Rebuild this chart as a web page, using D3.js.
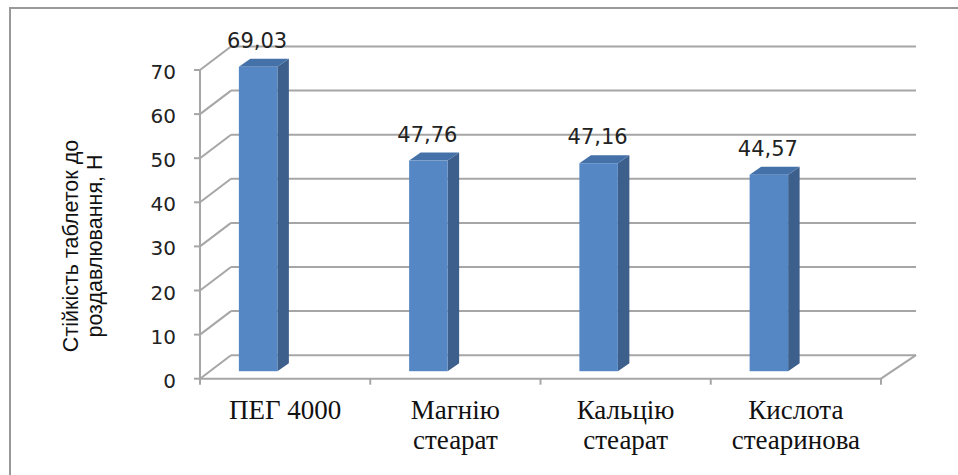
<!DOCTYPE html>
<html>
<head>
<meta charset="utf-8">
<script src="https://cdn.jsdelivr.net/npm/d3@7"></script>
<style>
  body { margin: 0; background: #fff; }
  svg { display: block; }
</style>
</head>
<body>
<svg id="chart" width="958" height="475"></svg>
<script>
// data
const categories = [["ПЕГ 4000"], ["Магнію", "стеарат"], ["Кальцію", "стеарат"], ["Кислота", "стеаринова"]];
const values = [69.03, 47.76, 47.16, 44.57];
const valueLabels = ["69,03", "47,76", "47,16", "44,57"];
const yTicks = [0, 10, 20, 30, 40, 50, 60, 70];
const yTitle = ["Стійкість таблеток до", "роздавлювання, Н"];

const svg = d3.select("#chart");
const gridColor = "#a6a6a6";

// front plane of the 3d box
const x = d3.scaleBand().domain(d3.range(categories.length)).range([200, 881]);
const y = d3.scaleLinear().domain([0, 70]).range([378.7, 70]);

// depth of the box (back wall offset)
const depth = { dy: -23.5, leftX: 231, rightX: 916 };

// bar geometry (relative to category)
const bar = { shift: -27, width: 38.5, frontDy: -7.5, sideDx: 11.5, sideDy: -8 };

// outer frame
svg.append("rect")
    .attr("x", 10).attr("y", 8)
    .attr("width", 960).attr("height", 480)
    .attr("fill", "none")
    .attr("stroke", "#999")
    .attr("stroke-width", 2);

const grid = svg.append("g")
    .attr("stroke", gridColor)
    .attr("stroke-width", 2)
    .attr("fill", "none");

// back wall gridlines
grid.selectAll(".back")
    .data(yTicks)
    .join("line")
    .attr("x1", depth.leftX)
    .attr("x2", depth.rightX)
    .attr("y1", d => y(d) + depth.dy)
    .attr("y2", d => y(d) + depth.dy);

// side wall diagonals
grid.selectAll(".side")
    .data(yTicks)
    .join("line")
    .attr("x1", 200)
    .attr("x2", depth.leftX)
    .attr("y1", d => y(d))
    .attr("y2", d => y(d) + depth.dy);

// floor front edge and right edge
grid.append("line")
    .attr("x1", 200).attr("x2", 881)
    .attr("y1", y(0)).attr("y2", y(0));
grid.append("line")
    .attr("x1", 881).attr("x2", depth.rightX)
    .attr("y1", y(0)).attr("y2", y(0) + depth.dy);

// vertical axis line + ticks
grid.append("line")
    .attr("x1", 200).attr("x2", 200)
    .attr("y1", y(70)).attr("y2", y(0) + 5);
grid.selectAll(".ytick")
    .data(yTicks)
    .join("line")
    .attr("x1", 194).attr("x2", 200)
    .attr("y1", d => y(d)).attr("y2", d => y(d));

// category ticks
const edges = d3.range(categories.length + 1).map(i => i < categories.length ? x(i) : x(i - 1) + x.bandwidth());
grid.selectAll(".xtick")
    .data(edges)
    .join("line")
    .attr("x1", d => d).attr("x2", d => d)
    .attr("y1", y(0)).attr("y2", y(0) + 6);

// y tick labels
svg.append("g")
    .selectAll("text")
    .data(yTicks)
    .join("text")
    .attr("x", 176)
    .attr("y", d => y(d) + 9)
    .attr("text-anchor", "end")
    .attr("font-family", "DejaVu Sans")
    .attr("font-size", 20)
    .attr("fill", "#222")
    .text(d => d);

// bars
const bars = svg.append("g")
    .selectAll("g")
    .data(values)
    .join("g");

function barLeft(i) {
    return x(i) + x.bandwidth() / 2 + bar.shift - bar.width / 2;
}

bars.append("path")
    .attr("fill", "#3d5f8c")
    .attr("d", function(d, i) {
        const x0 = barLeft(i) + bar.width;
        const yb = y(0) + bar.frontDy;
        const yt = y(d) + bar.frontDy;
        return "M" + x0 + "," + yb + "L" + (x0 + bar.sideDx) + "," + (yb + bar.sideDy) +
            "L" + (x0 + bar.sideDx) + "," + (yt + bar.sideDy) + "L" + x0 + "," + yt + "Z";
    });

bars.append("path")
    .attr("fill", "#4571a9")
    .attr("d", function(d, i) {
        const x0 = barLeft(i);
        const yt = y(d) + bar.frontDy;
        return "M" + x0 + "," + yt + "L" + (x0 + bar.sideDx) + "," + (yt + bar.sideDy) +
            "L" + (x0 + bar.width + bar.sideDx) + "," + (yt + bar.sideDy) +
            "L" + (x0 + bar.width) + "," + yt + "Z";
    });

bars.append("rect")
    .attr("fill", "#5587c4")
    .attr("x", (d, i) => barLeft(i))
    .attr("y", d => y(d) + bar.frontDy)
    .attr("width", bar.width)
    .attr("height", d => y(0) - y(d));

// value labels
bars.append("text")
    .attr("x", (d, i) => barLeft(i) + bar.width / 2 - 1)
    .attr("y", d => y(d) + bar.frontDy - 19)
    .attr("text-anchor", "middle")
    .attr("font-family", "DejaVu Sans")
    .attr("font-size", 21)
    .attr("fill", "#222")
    .text((d, i) => valueLabels[i]);

// category labels
svg.append("g")
    .selectAll("text")
    .data(categories)
    .join("text")
    .attr("text-anchor", "middle")
    .attr("font-family", "Liberation Serif")
    .attr("font-size", 27)
    .attr("fill", "#111")
    .each(function(lines, i) {
        const t = d3.select(this);
        lines.forEach(function(line, j) {
            t.append("tspan")
                .attr("x", x(i) + x.bandwidth() / 2)
                .attr("y", 419 + j * 29.5)
                .text(line);
        });
    });

// y axis title
const title = svg.append("text")
    .attr("transform", "translate(0,246) rotate(-90)")
    .attr("text-anchor", "middle")
    .attr("font-family", "Liberation Sans")
    .attr("font-size", 21.5)
    .attr("fill", "#111");

yTitle.forEach(function(line, j) {
    title.append("tspan")
        .attr("x", 0)
        .attr("y", 78 + j * 24)
        .text(line);
});
</script>
</body>
</html>
